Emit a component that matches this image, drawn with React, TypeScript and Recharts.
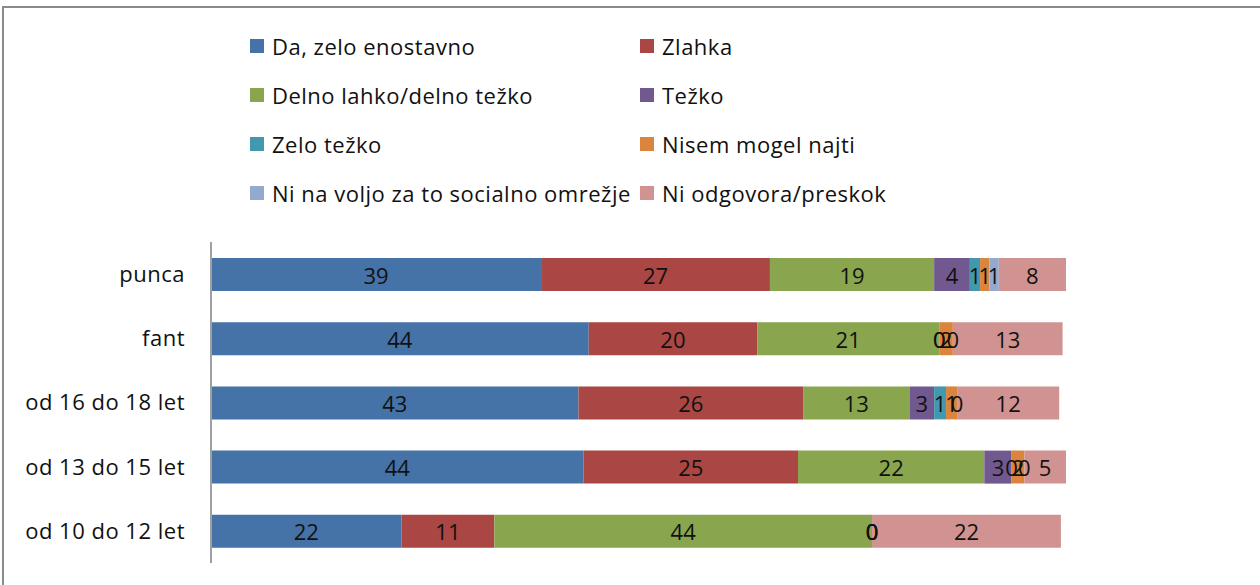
import React from 'react';
import { BarChart, Bar, XAxis, YAxis, LabelList } from 'recharts';

const categories = ['punca', 'fant', 'od 16 do 18 let', 'od 13 do 15 let', 'od 10 do 12 let'];

const daZeloEnostavno = [38.8, 44.4, 43.2, 43.8, 22.4];
const zlahka = [26.9, 19.8, 26.4, 25.2, 10.9];
const delnoLahko = [19.3, 21.4, 12.5, 21.9, 44.4];
const tezko = [4.2, 0, 2.9, 3.2, 0];
const zeloTezko = [1.2, 0, 1.4, 0, 0];
const nisemMogelNajti = [1.1, 1.6, 1.3, 1.5, 0];
const niNaVoljo = [1.1, 0, 0, 0, 0];
const niOdgovora = [7.9, 12.9, 12, 4.9, 22.2];

const seriesNames = [
  'Da, zelo enostavno',
  'Zlahka',
  'Delno lahko/delno težko',
  'Težko',
  'Zelo težko',
  'Nisem mogel najti',
  'Ni na voljo za to socialno omrežje',
  'Ni odgovora/preskok',
];
const seriesValues = [daZeloEnostavno, zlahka, delnoLahko, tezko, zeloTezko, nisemMogelNajti, niNaVoljo, niOdgovora];
const colors = ['#4572A7', '#AA4643', '#89A54E', '#71588F', '#4198AF', '#DB843D', '#93A9CF', '#D19392'];

const data = categories.map((name, i) => {
  const row: Record<string, string | number> = { name };
  seriesValues.forEach((vals, s) => {
    row[`s${s}`] = vals[i];
  });
  return row;
});

const FONT = '"Open Sans", Lato, sans-serif';
const FS = 22;
const LS = 0.5;
const LAST = seriesValues.length - 1;

const LegendBox = () => (
  <div
    style={{
      position: 'absolute',
      left: 0,
      top: 0,
      width: 900,
      height: 230,
      fontFamily: FONT,
      fontSize: FS,
      letterSpacing: LS,
      color: '#111',
    }}
  >
    {seriesNames.map((n, i) => {
      const col = i % 2;
      const row = Math.floor(i / 2);
      return (
        <div
          key={n}
          style={{
            position: 'absolute',
            left: col === 0 ? 250 : 640,
            top: 31 + row * 49,
            display: 'flex',
            alignItems: 'center',
            whiteSpace: 'nowrap',
            lineHeight: '30px',
          }}
        >
          <span style={{ display: 'inline-block', width: 14, height: 14, background: colors[i], marginRight: 8 }} />
          <span>{n}</span>
        </div>
      );
    })}
  </div>
);

const labelText = (key: string, x: number, y: number, v: number) => (
  <text
    key={key}
    x={x}
    y={y}
    textAnchor="middle"
    dominantBaseline="central"
    fontSize={FS}
    fontFamily={FONT}
    fill="#111"
  >
    {String(Math.round(v))}
  </text>
);

const renderLabel = (props: any) => {
  const { x, y, width, height, value } = props;
  return labelText('v', Number(x) + Number(width) / 2, Number(y) + Number(height) / 2, Number(value));
};

// last series also draws the "0" labels of empty segments (recharts skips them)
const renderLastLabel = (props: any) => {
  const { x, y, width, height, value, index } = props;
  const px = Number(x);
  const pw = Number(width);
  const cy = Number(y) + Number(height) / 2;
  const ppu = pw / Number(value);
  const zeros: React.ReactNode[] = [];
  for (let s = 0; s < LAST; s++) {
    if (seriesValues[s][index] !== 0) continue;
    let after = 0;
    for (let k = s; k < LAST; k++) after += seriesValues[k][index];
    zeros.push(labelText(`z${s}`, px - after * ppu, cy, 0));
  }
  return (
    <g>
      {zeros}
      {labelText('v', px + pw / 2, cy, Number(value))}
    </g>
  );
};

const App = () => {
  return (
    <div style={{ position: 'fixed', left: 0, top: 0, width: 1260, height: 585, background: '#fff', overflow: 'hidden' }}>
      <div
        style={{
          position: 'absolute',
          left: 2,
          top: 6,
          width: 1270,
          height: 600,
          borderLeft: '2px solid #8a8a8a',
          borderTop: '2px solid #8a8a8a',
        }}
      />
      <LegendBox />
      <BarChart
        width={1260}
        height={585}
        data={data}
        layout="vertical"
        margin={{ top: 242, right: 194, bottom: 22, left: 0 }}
        barSize={33}
        style={{ position: 'absolute', left: 0, top: 0, fontFamily: FONT }}
      >
        <XAxis type="number" domain={[0, 'dataMax']} hide />
        <YAxis
          type="category"
          dataKey="name"
          width={211}
          axisLine={{ stroke: '#a0a0a0', strokeWidth: 2 }}
          tickLine={false}
          tickMargin={20}
          tick={{ fontSize: FS, fill: '#111', fontFamily: FONT, letterSpacing: LS }}
        />
        {seriesNames.map((n, i) => (
          <Bar key={n} dataKey={`s${i}`} name={n} stackId="a" fill={colors[i]} isAnimationActive={false}>
            <LabelList dataKey={`s${i}`} content={i === LAST ? renderLastLabel : renderLabel} />
          </Bar>
        ))}
      </BarChart>
    </div>
  );
};

export default App;
